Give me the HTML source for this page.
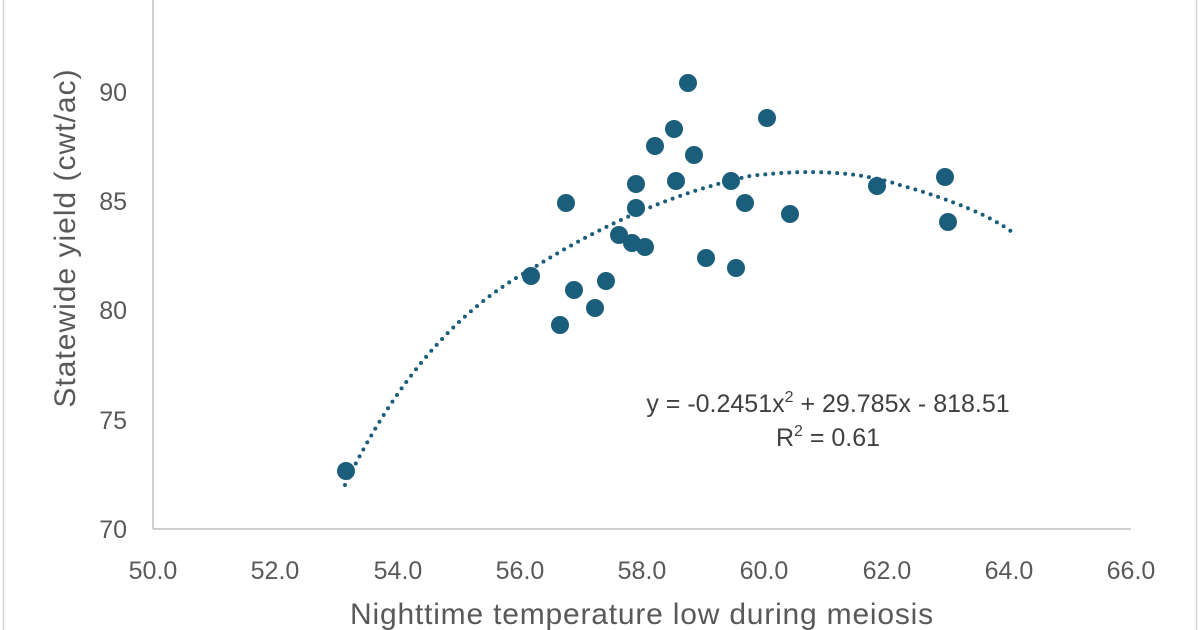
<!DOCTYPE html>
<html><head><meta charset="utf-8"><style>
html,body{margin:0;padding:0;background:#fff;}
svg{display:block;font-family:"Liberation Sans",sans-serif;}
</style></head><body>
<svg width="1200" height="630" xmlns="http://www.w3.org/2000/svg">
<rect x="0" y="0" width="1200" height="630" fill="#fff"/>
<line x1="3.5" y1="0" x2="3.5" y2="630" stroke="#d0d0d0" stroke-width="1.5"/>
<line x1="1196.5" y1="0" x2="1196.5" y2="630" stroke="#d0d0d0" stroke-width="1.5"/>
<line x1="153" y1="0" x2="153" y2="529" stroke="#bfbfbf" stroke-width="1.5"/>
<line x1="153" y1="529" x2="1131" y2="529" stroke="#bfbfbf" stroke-width="1.5"/>
<g fill="#595959" font-size="25" text-anchor="end">
<text x="127" y="538">70</text>
<text x="127" y="429">75</text>
<text x="127" y="319">80</text>
<text x="127" y="210">85</text>
<text x="127" y="101">90</text>
</g>
<g fill="#595959" font-size="25" text-anchor="middle">
<text x="153" y="579">50.0</text>
<text x="275" y="579">52.0</text>
<text x="398" y="579">54.0</text>
<text x="520" y="579">56.0</text>
<text x="642" y="579">58.0</text>
<text x="764" y="579">60.0</text>
<text x="887" y="579">62.0</text>
<text x="1009" y="579">64.0</text>
<text x="1131" y="579">66.0</text>
</g>
<text x="642" y="624" fill="#595959" font-size="30" letter-spacing="0.8" text-anchor="middle">Nighttime temperature low during meiosis</text>
<text transform="translate(75,238) rotate(-90)" fill="#595959" font-size="30" letter-spacing="1" text-anchor="middle">Statewide yield (cwt/ac)</text>
<path d="M345 485 Q 420 330 530 270 Q 640 200 750 176 Q 840 165 900 185 Q 980 208 1012 232" fill="none" stroke="#1b5e7b" stroke-width="4" stroke-linecap="round" stroke-dasharray="0 8"/>
<g fill="#1b5e7b">
<circle cx="346" cy="471" r="9"/><circle cx="531" cy="276" r="9"/><circle cx="560" cy="325" r="9"/><circle cx="566" cy="203" r="9"/><circle cx="574" cy="290" r="9"/><circle cx="595" cy="308" r="9"/><circle cx="606" cy="281" r="9"/><circle cx="619" cy="235" r="9"/><circle cx="632" cy="243" r="9"/><circle cx="636" cy="184" r="9"/><circle cx="636" cy="208" r="9"/><circle cx="645" cy="247" r="9"/><circle cx="655" cy="146" r="9"/><circle cx="674" cy="129" r="9"/><circle cx="676" cy="181" r="9"/><circle cx="688" cy="83" r="9"/><circle cx="694" cy="155" r="9"/><circle cx="706" cy="258" r="9"/><circle cx="731" cy="181" r="9"/><circle cx="736" cy="268" r="9"/><circle cx="745" cy="203" r="9"/><circle cx="767" cy="118" r="9"/><circle cx="790" cy="214" r="9"/><circle cx="877" cy="186" r="9"/><circle cx="945" cy="177" r="9"/><circle cx="948" cy="222" r="9"/>
</g>
<g fill="#404040" font-size="25" text-anchor="middle">
<text x="828" y="412">y = -0.2451x<tspan font-size="16" dy="-10">2</tspan><tspan dy="10"> + 29.785x - 818.51</tspan></text>
<text x="828" y="446">R<tspan font-size="16" dy="-10">2</tspan><tspan dy="10"> = 0.61</tspan></text>
</g>
</svg>
</body></html>
